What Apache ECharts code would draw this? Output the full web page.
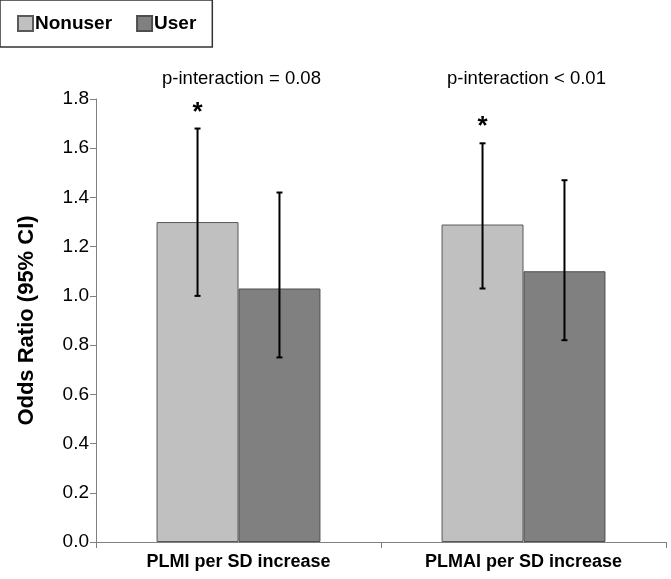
<!DOCTYPE html>
<html><head><meta charset="utf-8">
<style>html,body{margin:0;padding:0;background:#fff}#c{width:671px;height:579px}</style>
<script src="https://cdn.jsdelivr.net/npm/echarts@6/dist/echarts.min.js"></script>
</head><body><div id="c"></div>
<script>
const categories = ['PLMI per SD increase', 'PLMAI per SD increase'];
const nonuser = [1.30, 1.29];
const nonuserLow = [1.00, 1.03];
const nonuserHigh = [1.68, 1.62];
const user = [1.03, 1.10];
const userLow = [0.75, 0.82];
const userHigh = [1.42, 1.47];
const significant = [true, true];
const pLabels = ['p-interaction = 0.08', 'p-interaction < 0.01'];
const yTicks = [0, 1.8, 0.2];

const GAP = 0.425;
const chart = echarts.init(document.getElementById('c'));

function errItem(side) {
  return function (params, api) {
    const i = api.value(0);
    const catW = api.size([1, 0])[0];
    const bw = catW * (1 - GAP) / 2;
    const c = api.coord([i, api.value(1)]);
    const cx = c[0] + side * bw / 2;
    const yh = api.coord([i, api.value(2)])[1];
    const yl = api.coord([i, api.value(1)])[1];
    const cap = 3;
    const st = { stroke: '#000', lineWidth: 2 };
    return { type: 'group', children: [
      { type: 'line', shape: { x1: cx, y1: yl, x2: cx, y2: yh }, style: st },
      { type: 'line', shape: { x1: cx - cap, y1: yl, x2: cx + cap, y2: yl }, style: st },
      { type: 'line', shape: { x1: cx - cap, y1: yh, x2: cx + cap, y2: yh }, style: st }
    ]};
  };
}

chart.setOption({
  animation: false,
  grid: { left: 96, right: 5, top: 99, bottom: 37 },
  legend: {
    left: 0, top: 0,
    padding: [14, 16, 14, 17],
    borderColor: '#333', borderWidth: 1.5,
    itemWidth: 15, itemHeight: 15, itemGap: 24,
    icon: 'rect',
    textStyle: { fontFamily: 'Liberation Sans', fontWeight: 'bold', fontSize: 19, color: '#000', padding: [0,0,0,-3] },
    data: ['Nonuser', 'User']
  },
  xAxis: {
    type: 'category', data: categories,
    axisLine: { lineStyle: { color: '#808080', width: 1 } },
    axisTick: { show: true, length: 6, lineStyle: { color: '#808080' } },
    axisLabel: { fontFamily: 'Liberation Sans', fontWeight: 'bold', fontSize: 18, color: '#000', margin: 11 }
  },
  yAxis: {
    type: 'value', min: yTicks[0], max: yTicks[1], interval: yTicks[2],
    name: 'Odds Ratio (95% CI)', nameLocation: 'middle', nameGap: 58,
    nameTextStyle: { fontFamily: 'Liberation Sans', fontWeight: 'bold', fontSize: 22, color: '#000' },
    axisLine: { show: true, lineStyle: { color: '#808080', width: 1 } },
    axisTick: { show: true, length: 6, lineStyle: { color: '#808080' } },
    splitLine: { show: false },
    axisLabel: { fontFamily: 'Liberation Sans', fontSize: 19, color: '#000', margin: 7,
      formatter: v => v.toFixed(1) }
  },
  series: [
    { name: 'Nonuser', type: 'bar', data: nonuser, barGap: '0%', barCategoryGap: (GAP*100)+'%',
      itemStyle: { color: '#c0c0c0', borderColor: '#595959', borderWidth: 1 } },
    { name: 'User', type: 'bar', data: user,
      itemStyle: { color: '#808080', borderColor: '#4d4d4d', borderWidth: 1 } },
    { type: 'custom', renderItem: errItem(-1), z: 5,
      data: categories.map((c, i) => [i, nonuserLow[i], nonuserHigh[i]]) },
    { type: 'custom', renderItem: errItem(1), z: 5,
      data: categories.map((c, i) => [i, userLow[i], userHigh[i]]) },
    { type: 'custom', z: 6,
      renderItem: function (params, api) {
        const i = api.value(0);
        const catW = api.size([1, 0])[0];
        const bw = catW * (1 - GAP) / 2;
        const p = api.coord([i, api.value(1)]);
        return { type: 'text', x: p[0] - bw / 2, y: p[1] - 3,
          style: { text: '*', fontFamily: 'Liberation Sans', fontWeight: 'bold', fontSize: 26, fill: '#000', align: 'center', verticalAlign: 'bottom' } };
      },
      data: categories.map((c, i) => significant[i] ? [i, nonuserHigh[i]] : null).filter(d => d) },
    { type: 'custom', z: 6,
      renderItem: function (params, api) {
        const i = api.value(0);
        const p = api.coord([i, yTicks[1]]);
        return { type: 'text', x: p[0] + 3, y: p[1] - 20,
          style: { text: pLabels[i], fontFamily: 'Liberation Sans', fontSize: 18.5, fill: '#000', align: 'center', verticalAlign: 'middle' } };
      },
      data: categories.map((c, i) => [i]) }
  ]
});
</script></body></html>
